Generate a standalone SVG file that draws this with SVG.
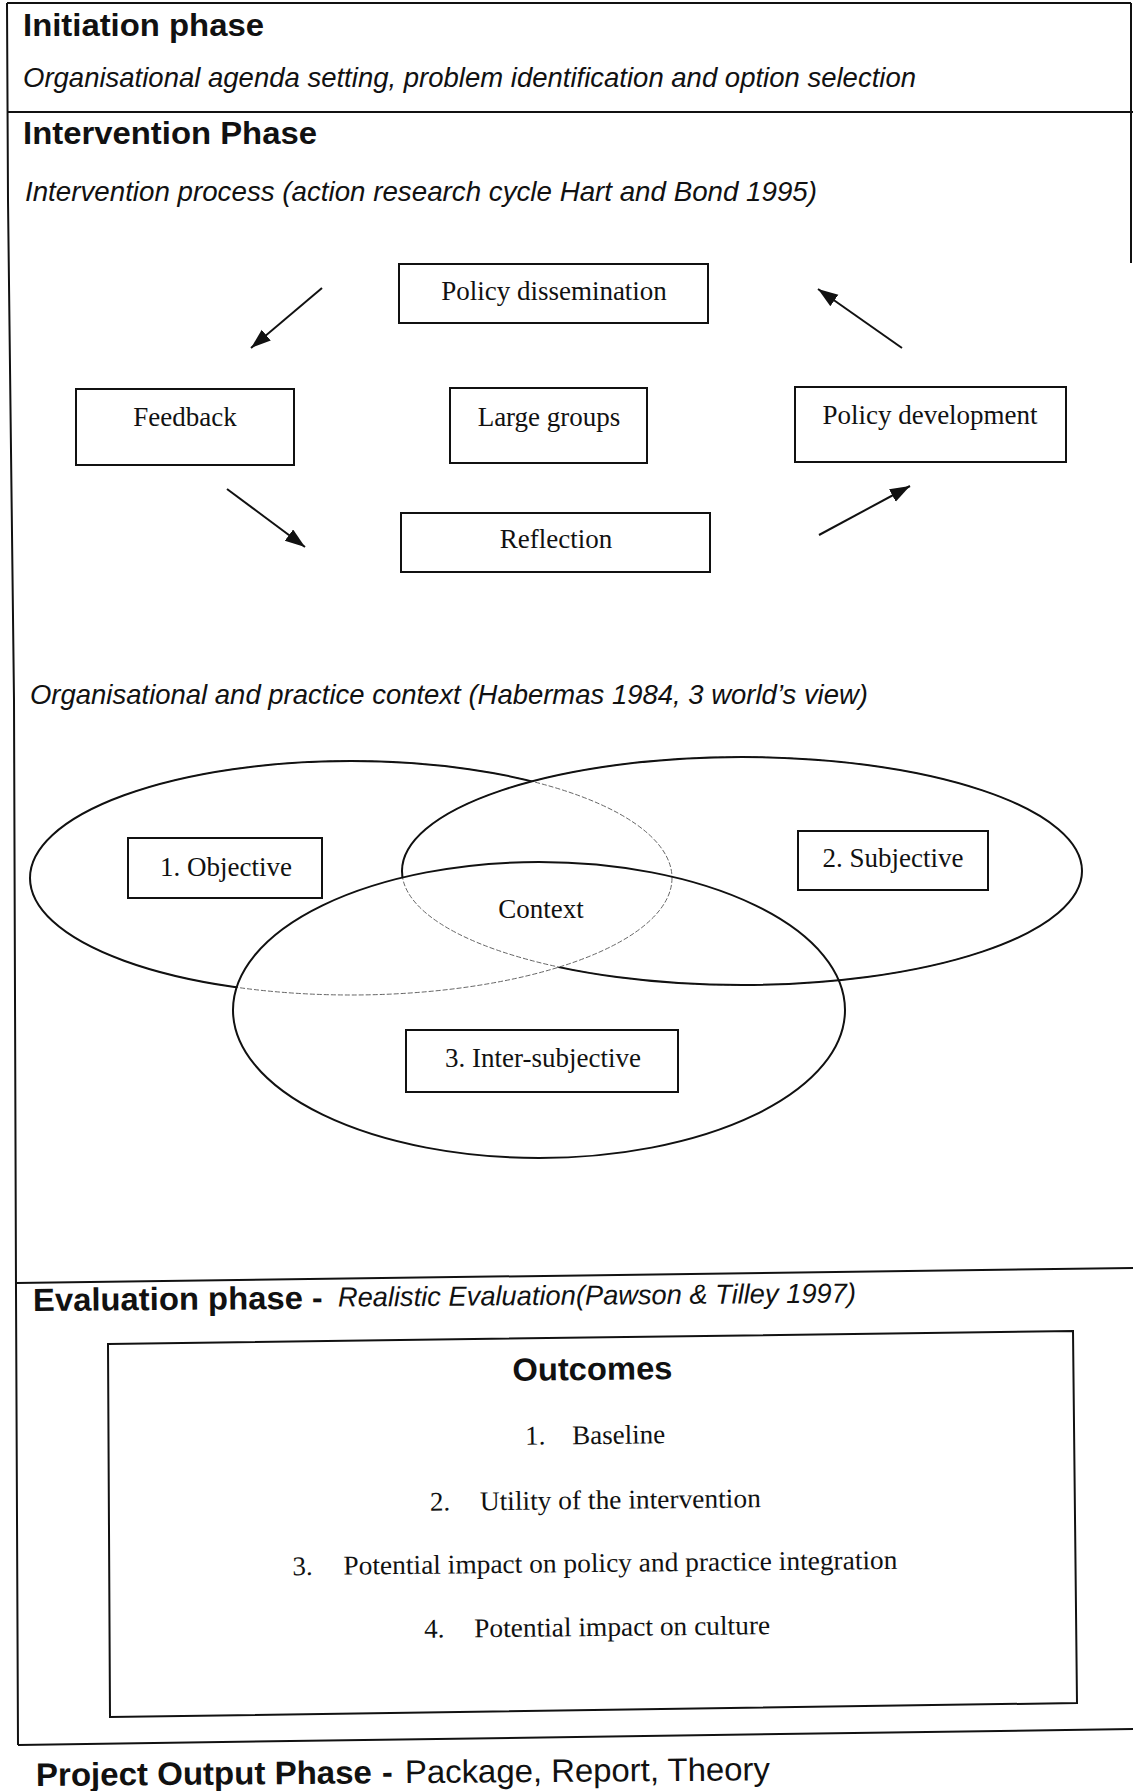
<svg xmlns="http://www.w3.org/2000/svg" width="1133" height="1791" viewBox="0 0 1133 1791">
  <style>
    .frame { fill: none; stroke: #111; stroke-width: 2; }
    .box { fill: #fff; stroke: #111; stroke-width: 2; }
    .head { font-family: "Liberation Sans", Arial, sans-serif; font-weight: bold; font-size: 32px; fill: #111; }
    .sub { font-family: "Liberation Sans", Arial, sans-serif; font-style: italic; font-size: 27.5px; fill: #111; }
    .plain { font-family: "Liberation Sans", Arial, sans-serif; font-size: 32.5px; fill: #111; }
    .lbl { font-family: "Liberation Serif", "Times New Roman", serif; font-size: 27px; fill: #111; text-anchor: middle; }
    .item { font-family: "Liberation Serif", "Times New Roman", serif; font-size: 27px; fill: #111; }
    .arrow { stroke: #111; stroke-width: 2; fill: none; marker-end: url(#ah); }
    .solid { fill: none; stroke: #111; stroke-width: 2; }
    .faint { fill: none; stroke: #666; stroke-width: 1; stroke-dasharray: 5 2; }
  </style>
  <defs>
    <marker id="ah" markerUnits="userSpaceOnUse" markerWidth="22" markerHeight="16" refX="20" refY="7" orient="auto">
      <path d="M0,0 L20,7 L0,14 z" fill="#111"/>
    </marker>
    <ellipse id="e1" cx="351" cy="878" rx="321" ry="117"/>
    <ellipse id="e2" cx="742" cy="871" rx="340" ry="114"/>
    <ellipse id="e3" cx="539" cy="1010" rx="306" ry="148"/>
    <clipPath id="ce3"><use href="#e3"/></clipPath>
    <mask id="m1" maskUnits="userSpaceOnUse" x="0" y="0" width="1133" height="1791">
      <rect x="0" y="0" width="1133" height="1791" fill="#fff"/>
      <use href="#e2" fill="#000"/>
      <use href="#e3" fill="#000"/>
    </mask>
    <mask id="m2" maskUnits="userSpaceOnUse" x="0" y="0" width="1133" height="1791">
      <rect x="0" y="0" width="1133" height="1791" fill="#fff"/>
      <use href="#e1" fill="#000" clip-path="url(#ce3)"/>
    </mask>
  </defs>

  <rect x="0" y="0" width="1133" height="1791" fill="#fff"/>

  <!-- page frame / section dividers -->
  <g id="frame">
    <line class="frame" x1="7" y1="3" x2="1131" y2="3"/>
    <line class="frame" x1="1131" y1="3" x2="1131" y2="263"/>
    <polyline class="frame" points="7,3 8,200 14,700 16,1290 18,1745"/>
    <line class="frame" x1="7" y1="112" x2="1133" y2="112"/>
    <line class="frame" x1="16" y1="1283" x2="1133" y2="1268"/>
    <line class="frame" x1="18" y1="1745" x2="1133" y2="1729"/>
  </g>

  <!-- Initiation phase -->
  <g id="initiation">
    <text class="head" x="23" y="36" textLength="241" lengthAdjust="spacingAndGlyphs">Initiation phase</text>
    <text class="sub" x="23" y="87" textLength="893" lengthAdjust="spacingAndGlyphs">Organisational agenda setting, problem identification and option selection</text>
  </g>

  <!-- Intervention phase -->
  <g id="intervention">
    <text class="head" x="23" y="144" textLength="294" lengthAdjust="spacingAndGlyphs">Intervention Phase</text>
    <text class="sub" x="25" y="201" textLength="792" lengthAdjust="spacingAndGlyphs">Intervention process (action research cycle Hart and Bond 1995)</text>
  </g>

  <g id="policy-dissemination">
    <rect class="box" x="399" y="264" width="309" height="59"/>
    <text class="lbl" x="554" y="300">Policy dissemination</text>
  </g>
  <g id="feedback">
    <rect class="box" x="76" y="389" width="218" height="76"/>
    <text class="lbl" x="185" y="426">Feedback</text>
  </g>
  <g id="large-groups">
    <rect class="box" x="450" y="388" width="197" height="75"/>
    <text class="lbl" x="549" y="426">Large groups</text>
  </g>
  <g id="policy-development">
    <rect class="box" x="795" y="387" width="271" height="75"/>
    <text class="lbl" x="930" y="424">Policy development</text>
  </g>
  <g id="reflection">
    <rect class="box" x="401" y="513" width="309" height="59"/>
    <text class="lbl" x="556" y="548">Reflection</text>
  </g>

  <g id="connectors">
    <line class="arrow" x1="322" y1="288" x2="251" y2="348"/>
    <line class="arrow" x1="227" y1="489" x2="305" y2="547"/>
    <line class="arrow" x1="819" y1="535" x2="910" y2="486"/>
    <line class="arrow" x1="902" y1="348" x2="818" y2="289"/>
  </g>

  <!-- Context (Venn) -->
  <g id="context-title">
    <text class="sub" x="30" y="704" textLength="838" lengthAdjust="spacingAndGlyphs">Organisational and practice context (Habermas 1984, 3 world’s view)</text>
  </g>
  <g id="venn">
    <use href="#e1" class="faint"/>
    <use href="#e2" class="faint"/>
    <use href="#e1" class="solid" mask="url(#m1)"/>
    <use href="#e2" class="solid" mask="url(#m2)"/>
    <use href="#e3" class="solid"/>
  </g>
  <g id="objective">
    <rect class="box" x="128" y="838" width="194" height="60"/>
    <text class="lbl" x="226" y="876">1. Objective</text>
  </g>
  <g id="subjective">
    <rect class="box" x="798" y="831" width="190" height="59"/>
    <text class="lbl" x="893" y="867">2. Subjective</text>
  </g>
  <g id="context">
    <text class="lbl" x="541" y="918">Context</text>
  </g>
  <g id="inter-subjective">
    <rect class="box" x="406" y="1030" width="272" height="62"/>
    <text class="lbl" x="543" y="1067">3. Inter-subjective</text>
  </g>

  <!-- Evaluation phase -->
  <g id="evaluation" transform="rotate(-0.45 33 1311)">
    <text class="head" x="33" y="1311" textLength="270" lengthAdjust="spacingAndGlyphs">Evaluation phase</text>
    <text class="head" x="312" y="1311">-</text>
    <text class="sub" x="338" y="1309" textLength="518" lengthAdjust="spacingAndGlyphs">Realistic Evaluation(Pawson &amp; Tilley 1997)</text>
  </g>
  <g id="outcomes">
    <polygon class="box" points="108,1344 1073,1331 1077,1703 110,1717"/>
    <g transform="rotate(-0.6 592 1520)">
      <text class="head" x="594" y="1380" text-anchor="middle" textLength="160" lengthAdjust="spacingAndGlyphs">Outcomes</text>
      <text class="item" x="526" y="1444">1.</text>
      <text class="item" x="573" y="1444">Baseline</text>
      <text class="item" x="430" y="1509">2.</text>
      <text class="item" x="480" y="1509" textLength="281" lengthAdjust="spacingAndGlyphs">Utility of the intervention</text>
      <text class="item" x="292" y="1572">3.</text>
      <text class="item" x="343" y="1572" textLength="554" lengthAdjust="spacingAndGlyphs">Potential impact on policy and practice integration</text>
      <text class="item" x="423" y="1636">4.</text>
      <text class="item" x="473" y="1636" textLength="296" lengthAdjust="spacingAndGlyphs">Potential impact on culture</text>
    </g>
  </g>

  <!-- Project output phase -->
  <g id="output" transform="rotate(-0.45 36 1786)">
    <text class="head" x="36" y="1786" style="font-size:32.5px" textLength="336" lengthAdjust="spacingAndGlyphs">Project Output Phase</text>
    <text class="head" x="382" y="1786" style="font-size:32.5px">-</text>
    <text class="plain" x="405" y="1786" textLength="365" lengthAdjust="spacingAndGlyphs">Package, Report, Theory</text>
  </g>
</svg>
